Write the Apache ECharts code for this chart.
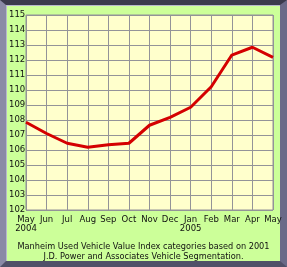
<!DOCTYPE html>
<html>
<head>
<meta charset="utf-8">
<script src="https://cdn.jsdelivr.net/npm/echarts@6/dist/echarts.min.js"></script>
<style>
  html, body { margin: 0; padding: 0; background: #ffffff; }
  #frame {
    width: 274px; height: 256px;
    border-top: 5px solid #3a3a4c;
    border-left: 6px solid #8a8aa6;
    border-right: 7px solid #6a6a88;
    border-bottom: 6px solid #505068;
    background: #ccff99;
    position: relative;
    box-shadow: inset 1px 1px 0 #b8b8cc;
  }
  #chart { width: 287px; height: 267px; position: absolute; left: -6px; top: -5px; }
</style>
</head>
<body>
<div id="frame"><div id="chart"></div></div>
<script>
const months = ['May\n2004', 'Jun', 'Jul', 'Aug', 'Sep', 'Oct', 'Nov', 'Dec', 'Jan\n2005', 'Feb', 'Mar', 'Apr', 'May'];
const indexValues = [107.85, 107.1, 106.45, 106.18, 106.35, 106.45, 107.65, 108.18, 108.85, 110.22, 112.33, 112.85, 112.18];
const yMin = 102;
const yMax = 115;
const footnote = 'Manheim Used Vehicle Value Index categories based on 2001\nJ.D. Power and Associates Vehicle Segmentation.';

const chart = echarts.init(document.getElementById('chart'));
const font = 'DejaVu Sans, Verdana, sans-serif';
const gridColor = '#939398';

chart.setOption({
  animation: false,
  grid: {
    left: 26,
    right: 14,
    top: 15,
    bottom: 57,
    show: true,
    backgroundColor: '#ffffcc',
    borderColor: gridColor,
    borderWidth: 1
  },
  title: {
    text: footnote,
    left: 'center',
    top: 237,
    textStyle: {
      fontFamily: font,
      fontSize: 8.2,
      fontWeight: 'normal',
      color: '#111111',
      lineHeight: 10,
      align: 'center'
    }
  },
  xAxis: {
    type: 'category',
    data: months,
    boundaryGap: false,
    axisLine: { show: false },
    axisTick: { show: false },
    axisLabel: {
      interval: 0,
      fontFamily: font,
      fontSize: 8.5,
      color: '#111111',
      lineHeight: 9,
      margin: 5
    },
    splitLine: { show: true, lineStyle: { color: gridColor, width: 1 } }
  },
  yAxis: {
    type: 'value',
    min: yMin,
    max: yMax,
    interval: 1,
    axisLine: { show: false },
    axisTick: { show: false },
    axisLabel: {
      fontFamily: font,
      fontSize: 8.5,
      color: '#111111',
      align: 'left',
      margin: 17,
      padding: [0, 0, 3, 0]
    },
    splitLine: { show: true, lineStyle: { color: gridColor, width: 1 } }
  },
  series: [{
    type: 'line',
    data: indexValues,
    symbol: 'none',
    lineStyle: { color: '#d40000', width: 3 }
  }]
});
</script>
</body>
</html>
